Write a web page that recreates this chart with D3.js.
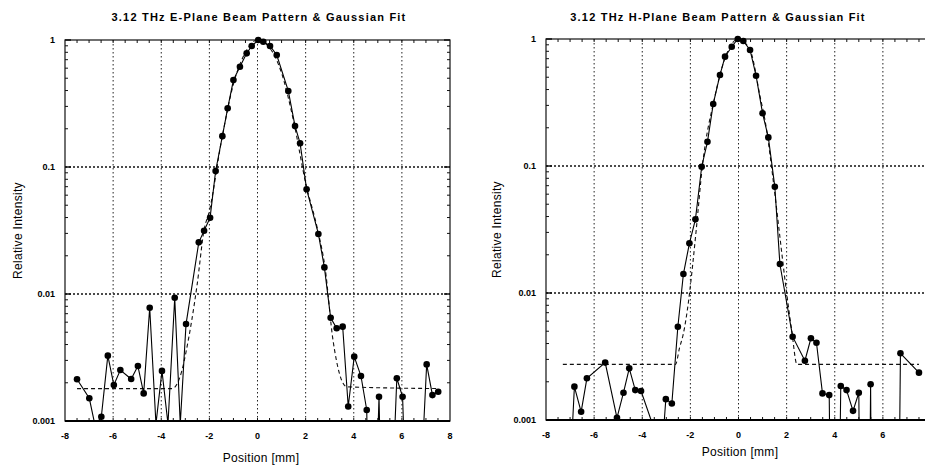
<!DOCTYPE html>
<html>
<head>
<meta charset="utf-8">
<script src="https://cdn.jsdelivr.net/npm/d3@7"></script>
<style>
  body { margin: 0; background: #fff; }
  svg { display: block; font-family: "Liberation Sans", Arial, sans-serif; }
</style>
</head>
<body>
<svg id="chart" width="925" height="465"></svg>
<script>
// ── E-plane: measured points (values < 0.001 fall below the axis) ──────────
const ePos = [-7.50,-6.99,-6.75,-6.49,-6.22,-5.97,-5.70,-5.25,-4.97,-4.73,-4.48,-4.22,-3.97,-3.72,-3.44,-3.21,-2.97,-2.44,-2.22,-1.97,-1.74,-1.46,-1.24,-1.00,-0.73,-0.45,-0.24,0.03,0.24,0.52,0.80,1.28,1.56,1.77,2.04,2.53,2.78,3.04,3.29,3.54,3.77,4.02,4.30,4.54,4.70,5.05,5.30,5.79,6.03,6.40,7.03,7.27,7.51];
const eInt = [0.00213,0.00151,0.00092,0.00108,0.00327,0.00192,0.00252,0.00214,0.00271,0.00165,0.0078,0.00095,0.00248,0.00095,0.00935,0.00095,0.0058,0.0255,0.0315,0.0399,0.093,0.175,0.29,0.484,0.616,0.785,0.897,1.0,0.97,0.897,0.762,0.397,0.21,0.154,0.0668,0.0297,0.0162,0.0065,0.00537,0.00553,0.0013,0.00321,0.00226,0.00122,0.00001,0.00155,0.00001,0.00217,0.00155,0.00001,0.00279,0.0016,0.0017];
// E-plane Gaussian fit
const eFitPos = [-7.5,-3.55,-3.14,-2.97,-2.51,-2.22,-2.0,-1.5,-1.0,-0.5,0,0.5,1.0,1.5,2.0,2.5,2.81,3.14,3.71,7.5];
const eFitInt = [0.0018,0.0018,0.0025,0.0035,0.0118,0.032,0.045,0.16,0.45,0.8,1.0,0.87,0.55,0.23,0.075,0.032,0.016,0.0043,0.00186,0.0018];

// ── H-plane ────────────────────────────────────────────────────────────────
const hPos = [-7.15,-6.82,-6.54,-6.30,-5.54,-5.05,-4.78,-4.54,-4.29,-4.05,-3.55,-3.10,-3.02,-2.77,-2.52,-2.29,-2.04,-1.79,-1.53,-1.29,-1.05,-0.77,-0.56,-0.28,-0.03,0.20,0.48,0.73,1.00,1.24,1.51,1.72,2.25,2.76,3.01,3.24,3.49,3.77,3.90,4.10,4.25,4.49,4.76,5.00,5.10,5.35,5.49,5.60,6.60,6.73,7.50];
const hInt = [0.0001,0.00183,0.00116,0.00213,0.00283,0.00104,0.00164,0.00255,0.00172,0.00169,0.0009,0.0009,0.00146,0.00135,0.00543,0.0141,0.0246,0.038,0.0987,0.155,0.308,0.521,0.726,0.869,1.0,0.965,0.82,0.514,0.26,0.168,0.0687,0.0169,0.00453,0.00293,0.0044,0.00406,0.00162,0.00157,0.00001,0.00001,0.00185,0.00172,0.00118,0.00164,0.00001,0.000001,0.00191,0.000001,0.00001,0.00335,0.00236];
const hFitPos = [-7.3,-2.62,-2.45,-2.29,-2.08,-1.9,-1.76,-1.5,-1.0,-0.5,0,0.5,0.9,1.1,1.49,1.65,2.0,2.21,2.43,7.5];
const hFitInt = [0.00274,0.00274,0.0037,0.0048,0.0085,0.017,0.031,0.1,0.34,0.76,1.0,0.8,0.35,0.23,0.065,0.036,0.01,0.0051,0.00274,0.00274];

// ── Axes ───────────────────────────────────────────────────────────────────
const xTicks = [-8,-6,-4,-2,0,2,4,6,8];
const yTicks = [0.001,0.01,0.1,1];
const yTickLabels = ['0.001','0.01','0.1','1'];

const svg = d3.select('#chart');

function panel(o) {
  const x = d3.scaleLinear().domain([-8, 8]).range([o.x0, o.x1]);
  const y = d3.scaleLog().domain([0.001, 1]).range([o.y1, o.y0]);
  const g = svg.append('g');

  // grid
  g.selectAll('.vg').data(xTicks.slice(1, -1)).join('line')
    .attr('x1', d => x(d)).attr('x2', d => x(d))
    .attr('y1', o.y0).attr('y2', o.y1)
    .attr('stroke', '#222').attr('stroke-width', 1).attr('stroke-dasharray', '1.5,2.5');
  g.selectAll('.hg').data([0.01, 0.1]).join('line')
    .attr('x1', o.x0).attr('x2', o.x1)
    .attr('y1', d => y(d)).attr('y2', d => y(d))
    .attr('stroke', '#111').attr('stroke-width', 1.5).attr('stroke-dasharray', '2,2');

  // minor ticks
  const minorY = [];
  [0.001, 0.01, 0.1].forEach(dec => { for (let k = 2; k <= 9; k++) minorY.push(dec * k); });
  [[o.x0, 1], [o.x1, -1]].forEach(([xe, s]) => {
    g.append('g').selectAll('line').data(minorY).join('line')
      .attr('x1', xe).attr('x2', xe + s * 3)
      .attr('y1', d => y(d)).attr('y2', d => y(d))
      .attr('stroke', '#111');
    g.append('g').selectAll('line').data(yTicks).join('line')
      .attr('x1', xe).attr('x2', xe + s * 6)
      .attr('y1', d => y(d)).attr('y2', d => y(d))
      .attr('stroke', '#111').attr('stroke-width', 1.5);
  });
  const minorX = d3.range(-7.5, 8, 0.5);
  [[o.y0, 1], [o.y1, -1]].forEach(([ye, s]) => {
    g.append('g').selectAll('line').data(minorX).join('line')
      .attr('x1', d => x(d)).attr('x2', d => x(d))
      .attr('y1', ye).attr('y2', ye + s * 3)
      .attr('stroke', '#111');
  });

  // frame
  g.append('rect').attr('x', o.x0).attr('y', o.y0)
    .attr('width', o.x1 - o.x0).attr('height', o.y1 - o.y0)
    .attr('fill', 'none').attr('stroke', '#111').attr('stroke-width', 1.2);
  g.append('line').attr('x1', o.x0).attr('x2', o.x1).attr('y1', o.y1).attr('y2', o.y1)
    .attr('stroke', '#000').attr('stroke-width', 2.2);

  // clip below the x axis
  const cid = 'clip' + o.id;
  svg.append('clipPath').attr('id', cid).append('rect')
    .attr('x', o.x0 - 10).attr('y', 0).attr('width', o.x1 - o.x0 + 20).attr('height', o.y1);
  const pg = g.append('g').attr('clip-path', `url(#${cid})`);

  const fit = o.fitPos.map((p, i) => ({p, v: o.fitInt[i]}));
  const meas = o.pos.map((p, i) => ({p, v: o.int[i]}));

  pg.append('path').datum(fit)
    .attr('d', d3.line().x(d => x(d.p)).y(d => y(d.v)).curve(d3.curveMonotoneX))
    .attr('fill', 'none').attr('stroke', '#111').attr('stroke-width', 1.1)
    .attr('stroke-dasharray', '4,3');
  pg.append('path').datum(meas)
    .attr('d', d3.line().x(d => x(d.p)).y(d => y(d.v)))
    .attr('fill', 'none').attr('stroke', '#000').attr('stroke-width', 1.1);
  pg.selectAll('circle').data(meas.filter(d => d.v >= 0.001)).join('circle')
    .attr('cx', d => x(d.p)).attr('cy', d => y(d.v)).attr('r', 3.3).attr('fill', '#000');

  // tick labels
  g.selectAll('.yl').data(yTicks).join('text')
    .attr('x', o.x0 - 10).attr('y', d => y(d)).attr('dy', '0.35em')
    .attr('text-anchor', 'end').attr('font-size', 9).attr('font-weight', 'bold')
    .text((d, i) => yTickLabels[i]);
  g.selectAll('.xl').data(xTicks.filter(d => x(d) < 925)).join('text')
    .attr('x', d => x(d)).attr('y', o.y1 + 15).attr('dy', '0.35em')
    .attr('text-anchor', 'middle').attr('font-size', 9).attr('font-weight', 'bold')
    .text(d => d);

  // titles
  svg.append('text').attr('x', o.titleX).attr('y', 21)
    .attr('text-anchor', 'middle').attr('font-size', 11).attr('font-weight', 'bold')
    .attr('letter-spacing', 1.2).text(o.title);
  svg.append('text').attr('x', o.xlabX).attr('y', o.xlabY)
    .attr('text-anchor', 'middle').attr('font-size', 12)
    .attr('letter-spacing', 0.3).text('Position [mm]');
  svg.append('text').attr('transform', `translate(${o.ylabX},${(o.y0 + o.y1) / 2}) rotate(-90)`)
    .attr('text-anchor', 'middle').attr('font-size', 12)
    .attr('letter-spacing', 0.3).text('Relative Intensity');
}

panel({id: 'E', x0: 65, x1: 450, y0: 40, y1: 421, pos: ePos, int: eInt, fitPos: eFitPos, fitInt: eFitInt,
  title: '3.12 THz E-Plane Beam Pattern & Gaussian Fit', titleX: 259, xlabX: 261, xlabY: 462, ylabX: 22});
panel({id: 'H', x0: 546, x1: 931, y0: 39, y1: 420, pos: hPos, int: hInt, fitPos: hFitPos, fitInt: hFitInt,
  title: '3.12 THz H-Plane Beam Pattern & Gaussian Fit', titleX: 718, xlabX: 740, xlabY: 456, ylabX: 501});
</script>
</body>
</html>
